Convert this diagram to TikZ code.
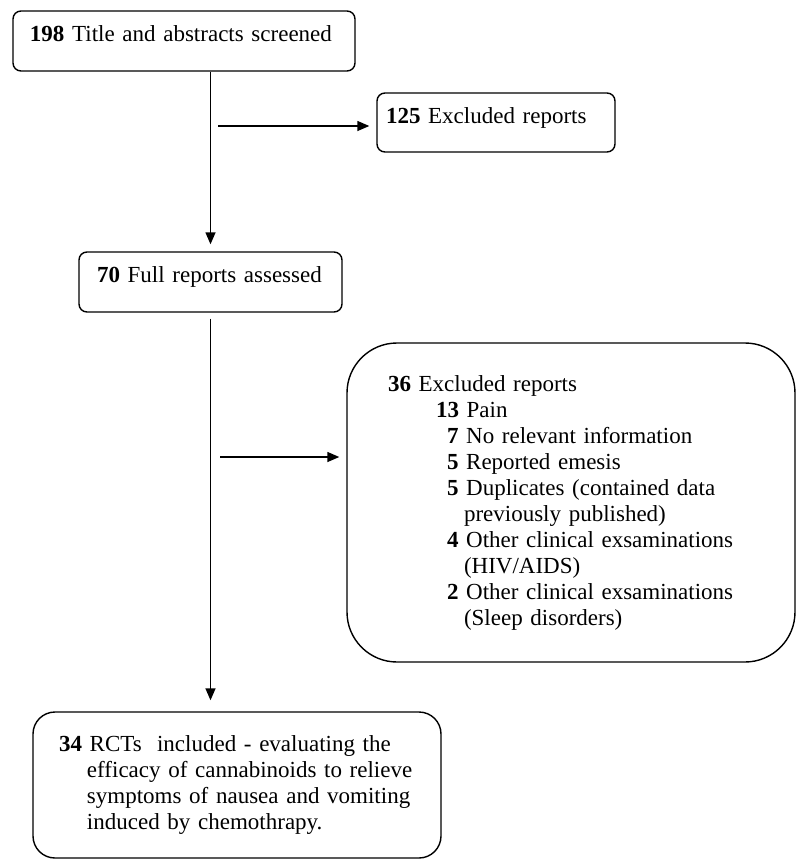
\documentclass[tikz,border=0pt]{standalone}
\usepackage{fontspec}
\setmainfont{Liberation Serif}
\usetikzlibrary{arrows.meta}
\newcommand{\drawbox}{\node[draw,rounded corners=8pt,align=left]}
\newcommand{\drawdummy}{\coordinate}

\begin{document}
\begin{tikzpicture}[x=1pt, y=-1pt, line width=1.4pt, >={Triangle[length=12pt,width=10pt]}, every node/.style={font=\fontsize{23}{26}\selectfont}]
\useasboundingbox (0,0) rectangle (797,860);
%screening flow with two exclusion steps
\drawbox[minimum width=342pt, minimum height=60pt, text width=308pt, inner xsep=17pt, text depth=14pt] (screen) at (184,41) {\textbf{198} Title and abstracts screened};
\drawbox[minimum width=238pt, minimum height=59pt, text width=220pt, inner xsep=9pt, text depth=14pt] (excla) at (496,122.5) {\textbf{125} Excluded reports};
\drawbox[minimum width=263pt, minimum height=60pt, text width=227pt, inner xsep=18pt, text depth=14pt] (full) at (210.5,282) {\textbf{70} Full reports assessed};
\drawbox[rounded corners=50pt, minimum width=448pt, minimum height=319pt, text width=366pt, inner xsep=41pt] (exclb) at (571,502.5) {\textbf{36} Excluded reports\\
\hspace*{48pt}\textbf{13} Pain\\
\hspace*{59pt}\textbf{7} No relevant information\\
\hspace*{59pt}\textbf{5} Reported emesis\\
\hspace*{59pt}\textbf{5} Duplicates (contained data\\
\hspace*{76pt}previously published)\\
\hspace*{59pt}\textbf{4} Other clinical exsaminations\\
\hspace*{76pt}(HIV/AIDS)\\
\hspace*{59pt}\textbf{2} Other clinical exsaminations\\
\hspace*{76pt}(Sleep disorders)};
\drawbox[rounded corners=22pt, minimum width=408pt, minimum height=146pt, text width=356pt, inner xsep=26pt] (incl) at (237,785) {\textbf{34} RCTs\ \ included - evaluating the\\
\hspace*{28pt}efficacy of cannabinoids to relieve\\
\hspace*{28pt}symptoms of nausea and vomiting\\
\hspace*{28pt}induced by chemothrapy.};
\drawdummy (ja) at (218,126);
\drawdummy (jb) at (220,457);

\draw[->] (full.north |- screen.south) to ([yshift=7pt]full.north);
\draw[->] (ja) to ([xshift=-7pt]ja -| excla.west);
\draw[->] ([yshift=-6pt]full.south) to ([yshift=11pt]incl.north -| full.south);
\draw[->] (jb) to ([xshift=-7pt]jb -| exclb.west);
\end{tikzpicture}
\end{document}
